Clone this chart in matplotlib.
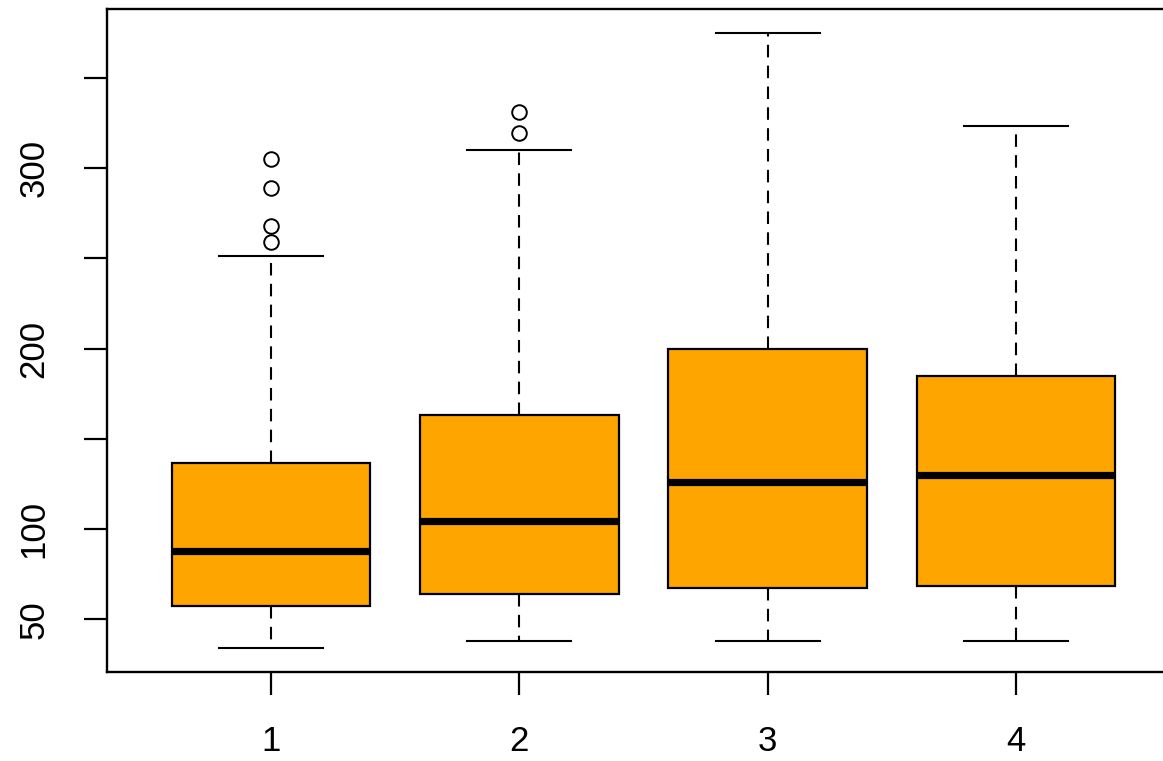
import matplotlib
matplotlib.use("Agg")
import matplotlib.pyplot as plt

# ── Box statistics ────────────────────────────────────────────────────────────
groups   = [1, 2, 3, 4]
q1       = [57.5, 64.1, 67.4, 68.5]
medians  = [87.9, 104.5, 126.0, 130.0]
q3       = [136.7, 163.4, 199.6, 184.6]
wlo      = [34.2, 38.1, 38.1, 38.1]
whi      = [251.0, 310.0, 374.8, 323.3]
outliers = [[305.2, 288.7, 267.7, 258.8], [331.2, 319.4], [], []]

yticks      = [50, 100, 150, 200, 250, 300, 350]
ytick_text  = ["50", "100", "", "200", "", "300", ""]

BOX_COLOR = "#FFA500"

plt.rcParams.update({
    "font.family": ["Liberation Sans", "DejaVu Sans"],
    "font.size": 25,
})

stats = [
    {"label": str(g), "q1": a, "med": m, "q3": b,
     "whislo": lo, "whishi": hi, "fliers": fl}
    for g, a, m, b, lo, hi, fl in zip(groups, q1, medians, q3, wlo, whi, outliers)
]

fig = plt.figure(figsize=(11.63, 7.61), dpi=100)
ax = fig.add_axes([0.092, 0.117, 0.9226, 0.871])

ax.bxp(stats, positions=groups, widths=0.8, patch_artist=True,
       boxprops=dict(facecolor=BOX_COLOR, edgecolor="black", linewidth=1.6),
       medianprops=dict(color="black", linewidth=5.2, solid_capstyle="butt"),
       whiskerprops=dict(color="black", linewidth=1.5, linestyle=(0, (6, 4))),
       capprops=dict(color="black", linewidth=1.5),
       capwidths=0.42,
       flierprops=dict(marker="o", markersize=10.5, markerfacecolor="white",
                       markeredgecolor="black", markeredgewidth=1.4))

ax.set_xlim(0.34, 4.66)
ax.set_ylim(20.9, 388)

ax.set_yticks(yticks)
ax.set_yticklabels(ytick_text, rotation=90, va="center")
ax.set_xticks(groups)
ax.set_xticklabels([str(g) for g in groups])
ax.tick_params(axis="both", length=16.5, width=1.6, color="black")
ax.tick_params(axis="x", pad=22)
ax.tick_params(axis="y", pad=24)

for s in ax.spines.values():
    s.set_linewidth(1.7)

fig.savefig("out.png", dpi=100)
